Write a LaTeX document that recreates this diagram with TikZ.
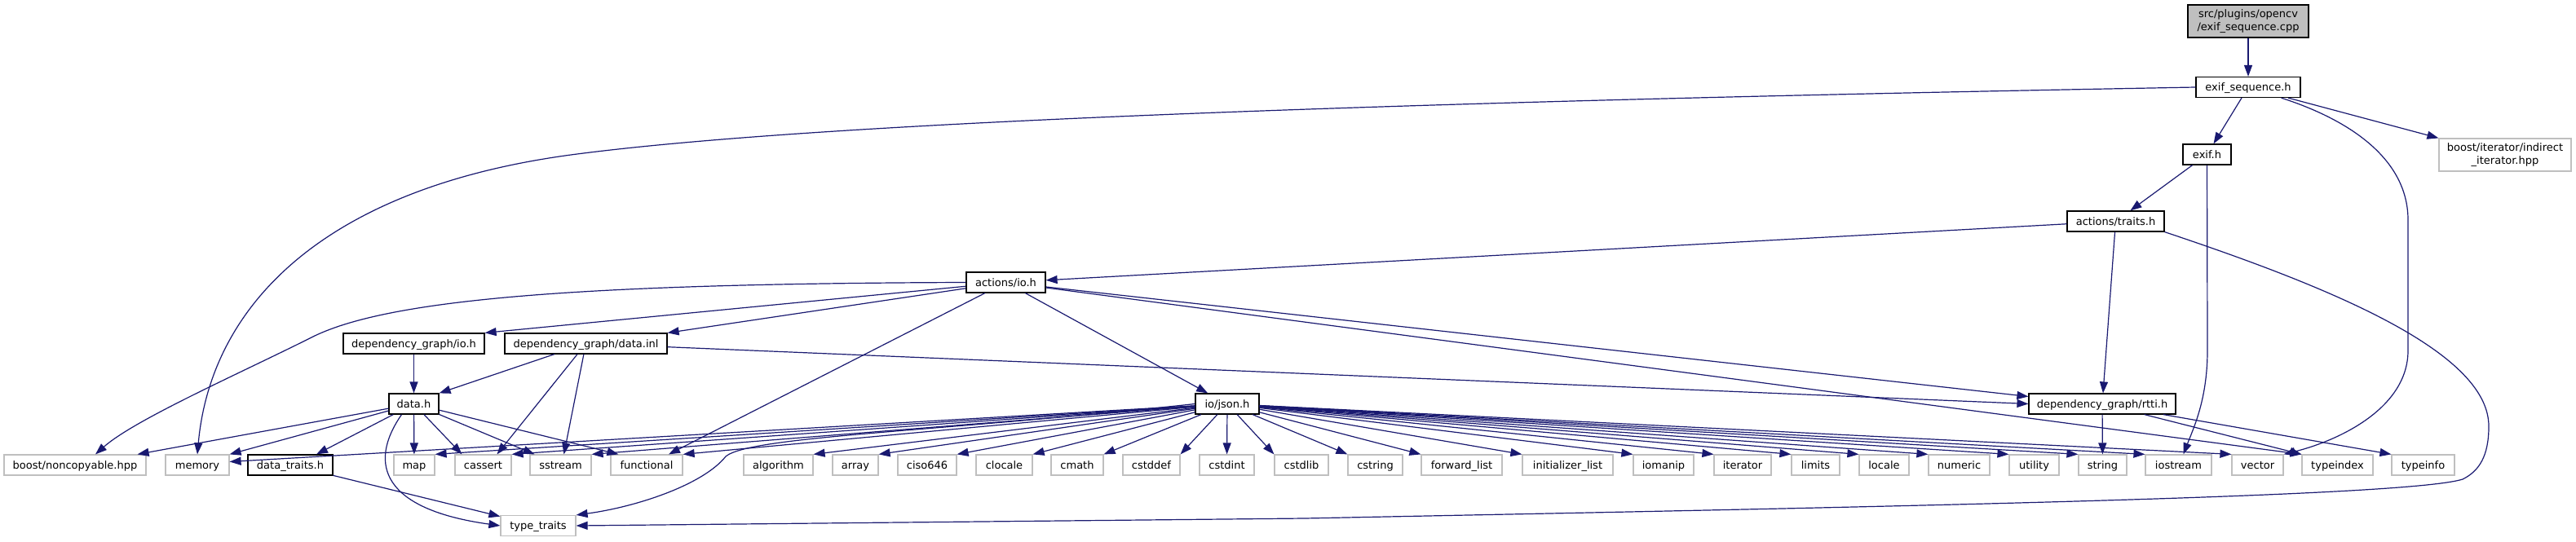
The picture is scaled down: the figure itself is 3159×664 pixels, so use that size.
\documentclass[tikz,border=0pt]{standalone}
\usepackage{fontspec}
\setmainfont{DejaVu Sans}
\usetikzlibrary{arrows.meta, calc}
\definecolor{edgeblue}{HTML}{191970}
\definecolor{grayline}{HTML}{BFBFBF}
\tikzset{
  every picture/.style={font=\fontsize{13}{15.6}\selectfont},
  box/.style={rectangle, inner sep=0pt, line width=1.2pt, minimum height=25pt,
              text height=10.5pt, text depth=1.5pt},
  hdr/.style={box, draw=black, fill=white},
  sys/.style={box, draw=grayline, fill=white},
  root/.style={rectangle, inner sep=0pt, line width=1.2pt, draw=black, fill=grayline,
               minimum height=40pt, align=center},
  ext/.style={rectangle, inner sep=0pt, line width=1.2pt, draw=grayline, fill=white,
              minimum height=40pt, align=center},
  inc/.style={-{Triangle[length=14pt, width=10pt]}, line width=1.2pt, edgeblue},
}

\begin{document}
\begin{tikzpicture}[x=1pt, y=-1pt]
  \useasboundingbox (0,0) rectangle (3159,664);
  % project headers
  \node[root, minimum width=148pt] (cpp) at (2757,26) {src/plugins/opencv\\/exif\_sequence.cpp};
  \node[hdr, minimum width=128pt] (seqh) at (2757,107) {exif\_sequence.h};
  \node[ext, minimum width=162pt] (iterhpp) at (3072,190) {boost/iterator/indirect\\\_iterator.hpp};
  \node[hdr, minimum width=59pt] (exifh) at (2706.5,189.5) {exif.h};
  \node[hdr, minimum width=119pt] (traits) at (2594.5,271.5) {actions/traits.h};
  \node[hdr, minimum width=97pt] (ioh) at (1233.5,346.5) {actions/io.h};
  \node[hdr, minimum width=173pt] (dgio) at (507.5,421.5) {dependency\_graph/io.h};
  \node[hdr, minimum width=199pt] (dginl) at (718.5,421.5) {dependency\_graph/data.inl};
  \node[hdr, minimum width=180pt] (rtti) at (2578,495.5) {dependency\_graph/rtti.h};
  \node[hdr, minimum width=61pt] (datah) at (507.5,495.5) {data.h};
  \node[hdr, minimum width=78pt] (json) at (1505,495.5) {io/json.h};
  \node[hdr, minimum width=104pt] (datatraits) at (356,570.5) {data\_traits.h};
  % system headers
  \node[sys, minimum width=174pt] (bnc) at (92,570.5) {boost/noncopyable.hpp};
  \foreach \n/\x/\w in {memory/242/78, map/508/50, cassert/592.5/69, sstream/687.5/75,
      functional/793/88, algorithm/954.5/85, array/1049/56, ciso646/1137/72,
      clocale/1231.5/69, cmath/1321/64, cstddef/1412/70, cstdint/1504.5/67,
      cstdlib/1596/66, cstring/1686.5/67, iomanip/2040/74, iterator/2137/70,
      limits/2226.5/59, locale/2310.5/61, numeric/2402.5/75, utility/2494.5/61,
      string/2578.5/59, iostream/2671.5/81, vector/2768.5/63, typeindex/2866.5/87,
      typeinfo/2971.5/77}
    \node[sys, minimum width=\w pt] (\n) at (\x,570.5) {\n};
  \node[sys, minimum width=99pt] (fwdlist) at (1792.5,570.5) {forward\_list};
  \node[sys, minimum width=111pt] (initlist) at (1922.5,570.5) {initializer\_list};
  \node[sys, minimum width=92pt] (typetraits) at (660,645) {type\_traits};

  % exif_sequence
  \draw[inc] (cpp) -- (seqh);
  \draw[inc] (seqh.west) .. controls (1700,125) and (1000,150) .. (700,190)
    .. controls (390,232) and (258,380) .. (memory.north);
  \draw[inc] (seqh) -- (exifh);
  \draw[inc] (seqh) -- (iterhpp.north west);
  \draw[inc] (seqh) .. controls (2890,150) and (2953,200) .. (2953,270) -- (2953,430)
    .. controls (2953,500) and (2870,540) .. (vector.north east);
  \draw[inc] (exifh) -- (traits);
  \draw[inc] (exifh.south) -- (2707,430) .. controls (2707,490) and (2690,525) .. ($(iostream.north)+(6,0)$);
  % actions/traits.h
  \draw[inc] (traits) -- (ioh);
  \draw[inc] (traits) -- (rtti);
  \draw[inc] (traits.south east) .. controls (2850,350) and (3052,430) .. (3052,523)
    .. controls (3052,560) and (3040,578) .. (3020,588)
    .. controls (2950,610) and (2300,622) .. (1600,636) -- (typetraits.east);
  % actions/io.h
  \draw[inc] (ioh.west) .. controls (700,348) and (470,368) .. (380,415)
    .. controls (290,460) and (165,515) .. ($(bnc.north)+(25,0)$);
  \draw[inc] (ioh) -- (dgio.north east);
  \draw[inc] (ioh) -- (dginl.north east);
  \draw[inc] (ioh) -- ($(functional.north)+(27,0)$);
  \draw[inc] (ioh) -- (json);
  \draw[inc] (ioh) -- ($(rtti.west)+(0,-9)$);
  \draw[inc] (ioh) -- (typeindex.north west);
  % dependency_graph
  \draw[inc] (dgio) -- (datah);
  \draw[inc] (dginl) -- (datah.north east);
  \draw[inc] (dginl) -- ($(cassert.north)+(17,0)$);
  \draw[inc] (dginl) -- ($(sstream.north)+(4,0)$);
  \draw[inc] (dginl) -- (rtti.west);
  \draw[inc] (rtti) -- (string);
  \draw[inc] (rtti) -- (typeindex.north west);
  \draw[inc] (rtti) -- (typeinfo.north west);
  % data.h
  \draw[inc] (datah) -- ($(bnc.north east)+(-11,0)$);
  \draw[inc] (datah) -- (memory.north east);
  \draw[inc] (datah) -- ($(datatraits.north)+(32,0)$);
  \draw[inc] (datah) -- (map);
  \draw[inc] (datah) -- ($(cassert.north)+(-26,0)$);
  \draw[inc] (datah) -- ($(sstream.north)+(-32,0)$);
  \draw[inc] (datah) -- ($(functional.north west)+(10,0)$);
  \draw[inc] ($(datah.south)+(-15,0)$) .. controls (450,570) and (470,625) .. (typetraits.west);
  \draw[inc] (datatraits) -- (typetraits);
  % io/json.h
  \draw[inc] (json) -- ($(memory.east)+(0,-4)$);
  \foreach \t in {map, cassert, sstream, functional, algorithm, array, ciso646,
      clocale, cmath, cstddef}
    \draw[inc] (json) -- (\t.north east);
  \draw[inc] (json) -- (cstdint);
  \foreach \t in {cstdlib, cstring, fwdlist, initlist, iomanip, iterator, limits,
      locale, numeric, utility, string, iostream, vector}
    \draw[inc] (json) -- (\t.north west);
  \draw[inc] (json.west) .. controls (1150,530) and (920,535) .. (890,560)
    .. controls (862,595) and (780,622) .. (typetraits.north east);
\end{tikzpicture}
\end{document}
